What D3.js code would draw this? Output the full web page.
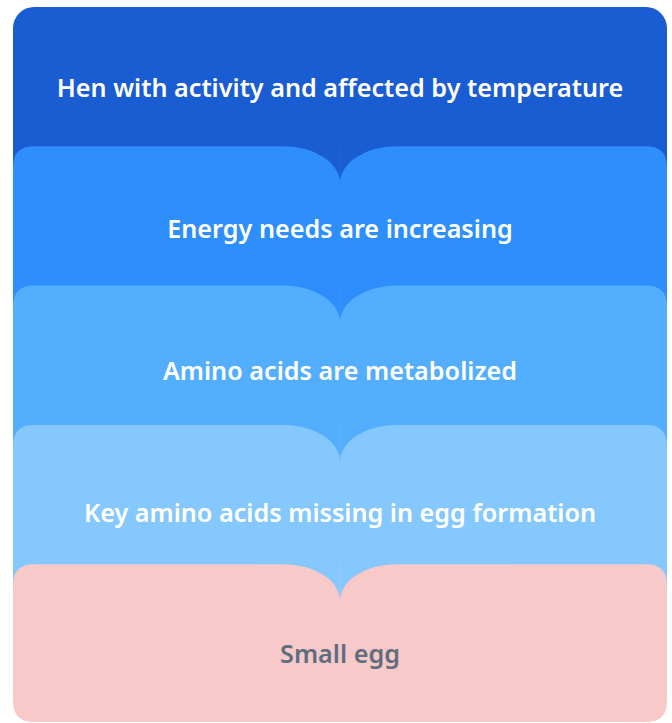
<!DOCTYPE html>
<html>
<head>
<meta charset="utf-8">
<script src="https://cdn.jsdelivr.net/npm/d3@7"></script>
<style>
  body { margin: 0; background: #ffffff; }
  svg { display: block; }
</style>
</head>
<body>
<div id="chart"></div>
<script>
var width = 672, height = 723;

// chart data
var steps = [
  "Hen with activity and affected by temperature",
  "Energy needs are increasing",
  "Amino acids are metabolized",
  "Key amino acids missing in egg formation",
  "Small egg"
];
var fills = ["#1a5cd2", "#2d8efc", "#53affd", "#85c8fd", "#f7c9c8"];
var textColors = ["#ffffff", "#ffffff", "#ffffff", "#ffffff", "#5f6d7f"];

var left = 13, right = 667, top0 = 7, bottom = 722;
var cx = (left + right) / 2;
var r = 21;          // outer corner radius
var notchW = 56, notchH = 37;

// each layer starts at a band position
var y = d3.scaleBand()
  .domain(d3.range(steps.length))
  .range([top0, 703.5])
  .paddingInner(0).paddingOuter(0);

function layerTop(i) { return y(i); }
function layerBottom(i) { return i < steps.length - 1 ? layerTop(i + 1) + 70 : bottom; }

var svg = d3.select("#chart")
  .append("svg")
  .attr("width", width)
  .attr("height", height)
  .attr("viewBox", [0, 0, width, height]);

function firstPath(t, b) {
  var p = d3.path();
  p.moveTo(left, t + r);
  p.arcTo(left, t, left + r, t, r);
  p.lineTo(right - r, t);
  p.arcTo(right, t, right, t + r, r);
  p.lineTo(right, b);
  p.lineTo(left, b);
  p.closePath();
  return p.toString();
}

// half of a notched layer; side = -1 left, +1 right
function halfPath(t, b, side, last) {
  var outer = side < 0 ? left : right;
  var s = side;
  var d = "M" + cx + "," + (t + notchH) +
    " A" + notchW + "," + notchH + " 0 0 " + (s < 0 ? 0 : 1) + " " + (cx + s * notchW) + "," + t +
    " L" + (outer - s * r) + "," + t +
    " Q" + outer + "," + t + " " + outer + "," + (t + r);
  if (last) {
    d += " L" + outer + "," + (b - r) +
      " Q" + outer + "," + b + " " + (outer - s * r) + "," + b +
      " L" + cx + "," + b;
  } else {
    d += " L" + outer + "," + b + " L" + cx + "," + b;
  }
  return d + " Z";
}

var layers = svg.selectAll("g.layer")
  .data(steps)
  .enter()
  .append("g")
  .attr("class", "layer");

layers.each(function(d, i) {
  var g = d3.select(this);
  var t = layerTop(i), b = layerBottom(i);
  var last = i === steps.length - 1;
  if (i === 0) {
    g.append("path").attr("d", firstPath(t, b)).attr("fill", fills[i]);
  } else {
    g.append("path").attr("d", halfPath(t, b, -1, last)).attr("fill", fills[i]);
    g.append("path").attr("d", halfPath(t, b, 1, last)).attr("fill", fills[i]);
    g.append("line")
      .attr("x1", cx).attr("x2", cx)
      .attr("y1", t).attr("y2", t + notchH)
      .attr("stroke", fills[i])
      .attr("stroke-opacity", 0.3)
      .attr("stroke-width", 1);
  }
});

layers.append("text")
  .attr("x", cx)
  .attr("y", function(d, i) { return layerTop(i) + 81 + 2.3 * i; })
  .attr("dy", "0.35em")
  .attr("text-anchor", "middle")
  .attr("font-family", "'Noto Sans', 'Open Sans', sans-serif")
  .attr("font-weight", 600)
  .attr("font-size", 25.2)
  .attr("fill", function(d, i) { return textColors[i]; })
  .text(function(d) { return d; });
</script>
</body>
</html>
